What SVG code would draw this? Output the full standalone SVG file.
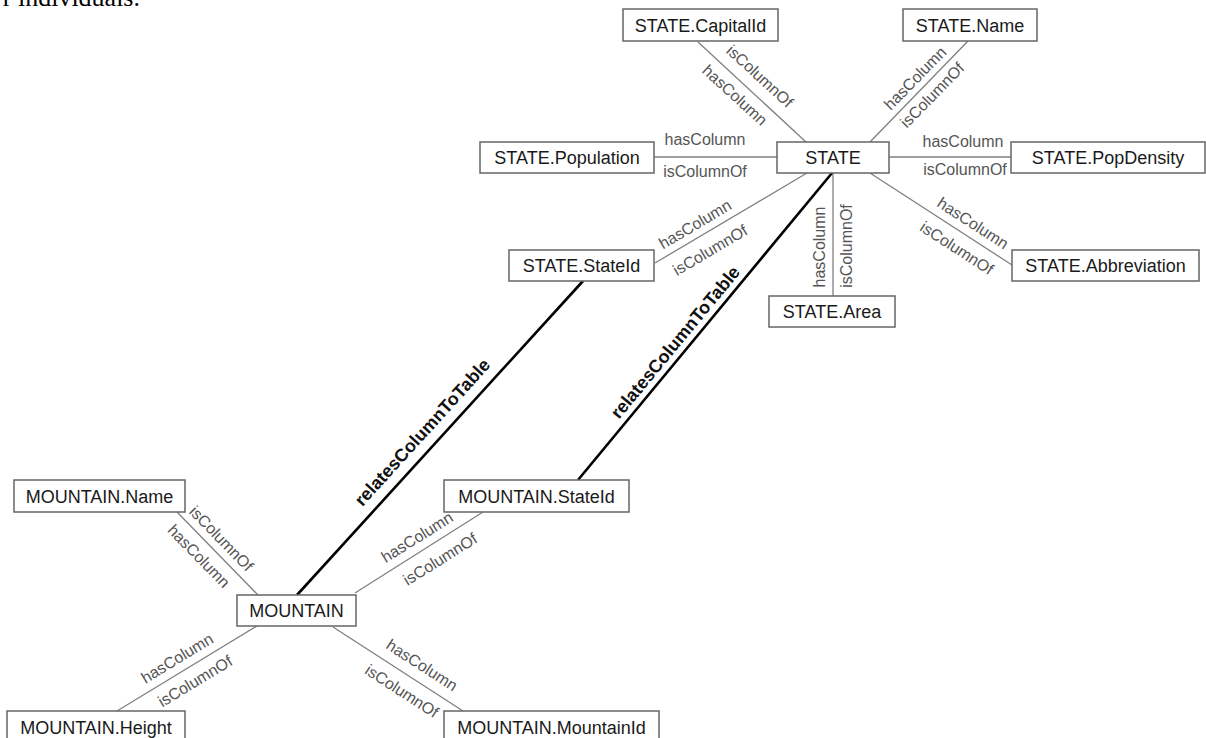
<svg xmlns="http://www.w3.org/2000/svg" width="1206" height="738" viewBox="0 0 1206 738">
<style>
.node rect{fill:#fff;stroke:#666;stroke-width:1.5}
.node text{font-family:"Liberation Sans",Arial,sans-serif;font-size:18px;fill:#1a1a1a;text-anchor:middle}
.thin{stroke:#808080;stroke-width:1.3;fill:none}
.thick{stroke:#000;stroke-width:2.6;fill:none}
.el{font-family:"Liberation Sans",Arial,sans-serif;font-size:16px;fill:#555;text-anchor:middle}
.rl{font-family:"Liberation Sans",Arial,sans-serif;font-size:18px;font-weight:bold;fill:#111;text-anchor:middle}
</style>
<rect width="1206" height="738" fill="#fff"/>
<text x="140" y="6" font-family="'Liberation Serif','Times New Roman',serif" font-size="26" fill="#000" text-anchor="end">r individuals.</text>
<g id="connectors">
<line class="thin" x1="698" y1="42" x2="806" y2="142"/>
<line class="thin" x1="968" y1="41" x2="870" y2="142"/>
<line class="thin" x1="654" y1="157" x2="777" y2="157"/>
<line class="thin" x1="889" y1="157" x2="1011" y2="157"/>
<line class="thin" x1="655" y1="263" x2="807" y2="173"/>
<line class="thin" x1="870" y1="173" x2="1012" y2="265"/>
<line class="thin" x1="833" y1="173" x2="833" y2="296"/>
<line class="thin" x1="177" y1="512" x2="258" y2="595"/>
<line class="thin" x1="355" y1="593" x2="483" y2="512"/>
<line class="thin" x1="117" y1="711" x2="257" y2="626"/>
<line class="thin" x1="333" y1="627" x2="463" y2="711"/>
<line class="thick" x1="832" y1="173" x2="578" y2="480"/>
<line class="thick" x1="583" y1="281" x2="297" y2="595"/>
<g transform="translate(760,76) rotate(42.5)"><text class="el" y="5.7">isColumnOf</text></g>
<g transform="translate(735,95) rotate(42.5)"><text class="el" y="5.7">hasColumn</text></g>
<g transform="translate(915,78) rotate(-45.6)"><text class="el" y="5.7">hasColumn</text></g>
<g transform="translate(932,95) rotate(-45.6)"><text class="el" y="5.7">isColumnOf</text></g>
<text class="el" x="705" y="145">hasColumn</text>
<text class="el" x="705" y="177">isColumnOf</text>
<text class="el" x="963" y="147">hasColumn</text>
<text class="el" x="965" y="175">isColumnOf</text>
<g transform="translate(695,224) rotate(-30.6)"><text class="el" y="5.7">hasColumn</text></g>
<g transform="translate(710,250) rotate(-30.6)"><text class="el" y="5.7">isColumnOf</text></g>
<g transform="translate(973,223) rotate(32.9)"><text class="el" y="5.7">hasColumn</text></g>
<g transform="translate(957,248) rotate(32.9)"><text class="el" y="5.7">isColumnOf</text></g>
<g transform="translate(819,247) rotate(-90)"><text class="el" y="5.7">hasColumn</text></g>
<g transform="translate(846,246) rotate(-90)"><text class="el" y="5.7">isColumnOf</text></g>
<g transform="translate(675,342) rotate(-50.4)"><text class="rl" y="6.5">relatesColumnToTable</text></g>
<g transform="translate(422,432) rotate(-47.7)"><text class="rl" y="6.5">relatesColumnToTable</text></g>
<g transform="translate(221.5,538.5) rotate(45.7)"><text class="el" y="5.7">isColumnOf</text></g>
<g transform="translate(199,556) rotate(45.7)"><text class="el" y="5.7">hasColumn</text></g>
<g transform="translate(417,537) rotate(-32)"><text class="el" y="5.7">hasColumn</text></g>
<g transform="translate(440,559) rotate(-32)"><text class="el" y="5.7">isColumnOf</text></g>
<g transform="translate(177,658) rotate(-31.3)"><text class="el" y="5.7">hasColumn</text></g>
<g transform="translate(195,681) rotate(-31.3)"><text class="el" y="5.7">isColumnOf</text></g>
<g transform="translate(422,665) rotate(32.9)"><text class="el" y="5.7">hasColumn</text></g>
<g transform="translate(402,691) rotate(32.9)"><text class="el" y="5.7">isColumnOf</text></g>
</g>
<g id="n-state-capitalid" class="node"><rect x="623" y="9" width="155" height="32"/><text x="700.5" y="31.5">STATE.CapitalId</text></g>
<g id="n-state-name" class="node"><rect x="903" y="9" width="134" height="32"/><text x="970" y="31.5">STATE.Name</text></g>
<g id="n-state-population" class="node"><rect x="480" y="142" width="174" height="31"/><text x="567" y="164">STATE.Population</text></g>
<g id="n-state" class="node"><rect x="777" y="142" width="112" height="31"/><text x="833" y="164">STATE</text></g>
<g id="n-state-popdensity" class="node"><rect x="1011" y="142" width="194" height="31"/><text x="1108" y="164">STATE.PopDensity</text></g>
<g id="n-state-stateid" class="node"><rect x="509" y="250" width="145" height="31"/><text x="581.5" y="272">STATE.StateId</text></g>
<g id="n-state-abbreviation" class="node"><rect x="1012" y="250" width="187" height="31"/><text x="1105.5" y="272">STATE.Abbreviation</text></g>
<g id="n-state-area" class="node"><rect x="769" y="296" width="126" height="31"/><text x="832" y="318">STATE.Area</text></g>
<g id="n-mountain-name" class="node"><rect x="14" y="480" width="171" height="32"/><text x="99.5" y="502.5">MOUNTAIN.Name</text></g>
<g id="n-mountain-stateid" class="node"><rect x="444" y="480" width="185" height="32"/><text x="536.5" y="502.5">MOUNTAIN.StateId</text></g>
<g id="n-mountain" class="node"><rect x="237" y="595" width="119" height="31"/><text x="296.5" y="617">MOUNTAIN</text></g>
<g id="n-mountain-height" class="node"><rect x="7" y="711" width="178" height="32"/><text x="96" y="733.5">MOUNTAIN.Height</text></g>
<g id="n-mountain-mountainid" class="node"><rect x="444" y="711" width="215" height="32"/><text x="551.5" y="733.5">MOUNTAIN.MountainId</text></g>
</svg>
